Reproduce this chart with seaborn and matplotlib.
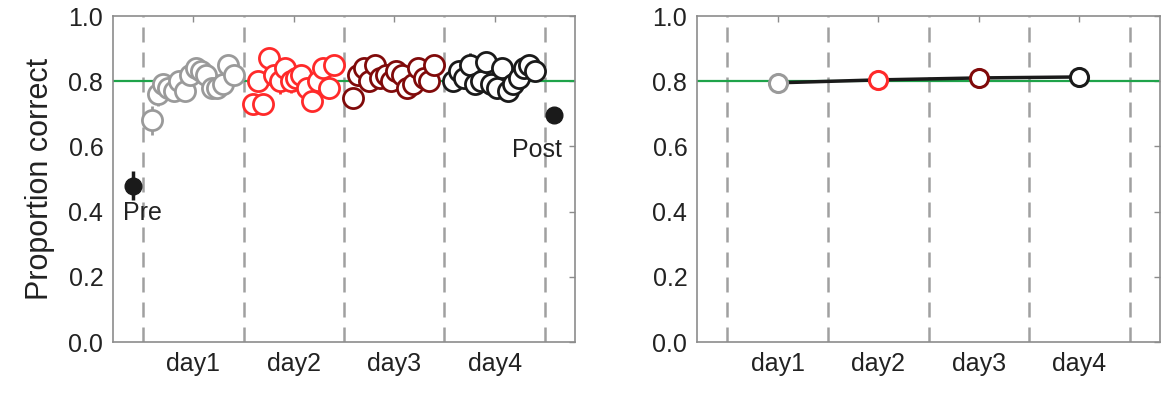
import numpy as np
import pandas as pd
import matplotlib
matplotlib.use("Agg")
import matplotlib.pyplot as plt
import seaborn as sns

sns.set_theme(style="white")
plt.rcParams['font.family'] = ['Liberation Sans', 'DejaVu Sans']

# ---------------- data ----------------
days = ["day1", "day2", "day3", "day4"]
day_colors = ["#9a9a9a", "#ff2a2a", "#800a0a", "#1a1a1a"]

day1_vals = [0.68, 0.76, 0.79, 0.78, 0.77, 0.80, 0.77, 0.82, 0.84, 0.83, 0.82, 0.78, 0.78, 0.79, 0.85, 0.82]
day2_vals = [0.73, 0.80, 0.73, 0.87, 0.82, 0.80, 0.84, 0.80, 0.81, 0.82, 0.78, 0.74, 0.80, 0.84, 0.78, 0.85]
day3_vals = [0.75, 0.82, 0.84, 0.80, 0.85, 0.81, 0.82, 0.80, 0.83, 0.82, 0.78, 0.79, 0.84, 0.81, 0.80, 0.85]
day4_vals = [0.80, 0.83, 0.81, 0.85, 0.79, 0.80, 0.86, 0.79, 0.78, 0.84, 0.77, 0.79, 0.81, 0.84, 0.85, 0.83]

day1_err = [0.045, 0.035, 0.03, 0.03, 0.03, 0.025, 0.03, 0.025, 0.02, 0.02, 0.02, 0.02, 0.02, 0.02, 0.02, 0.02]
day2_err = [0.02, 0.02, 0.02, 0.02, 0.035, 0.04, 0.02, 0.035, 0.02, 0.02, 0.02, 0.02, 0.035, 0.02, 0.035, 0.02]
day3_err = [0.02, 0.035, 0.02, 0.02, 0.02, 0.02, 0.02, 0.02, 0.02, 0.02, 0.02, 0.02, 0.02, 0.02, 0.02, 0.02]
day4_err = [0.02, 0.02, 0.02, 0.035, 0.02, 0.02, 0.02, 0.02, 0.02, 0.02, 0.02, 0.02, 0.02, 0.02, 0.02, 0.02]

pre_val, pre_err = 0.48, 0.045
post_val, post_err = 0.695, 0.015

day_means = [0.795, 0.804, 0.810, 0.813]

criterion = 0.8
yticks = [0.0, 0.2, 0.4, 0.6, 0.8, 1.0]
ytick_labels = ["0.0", "0.2", "0.4", "0.6", "0.8", "1.0"]

# ---------------- figure ----------------
W, H = 1163, 395
fig = plt.figure(figsize=(W / 100, H / 100), dpi=100)
ax1 = fig.add_axes([113 / W, (H - 342) / H, 462 / W, 326 / H])
ax2 = fig.add_axes([697 / W, (H - 342) / H, 463 / W, 326 / H])

spine_col = "#8c8c8c"
green = "#1fa34a"
dash_col = "#a0a0a0"
fs_tick = 18

for ax in (ax1, ax2):
    ax.set_xlim(0.2, 4.8)
    ax.set_ylim(0, 1)
    for b in np.arange(0.5, 5.0, 1.0):
        ax.axvline(b, color=dash_col, lw=1.8, ls=(0, (6, 4)), zorder=1)
    ax.axhline(criterion, color=green, lw=1.6, zorder=1.5)
    ax.set_yticks(yticks)
    ax.set_yticklabels(ytick_labels)
    ax.set_xticks([1, 2, 3, 4])
    ax.set_xticklabels(days)
    ax.tick_params(direction="in", length=4, width=1, color=spine_col,
                   labelsize=fs_tick, top=True, right=True, pad=7,
                   labelcolor="#222222")
    for s in ax.spines.values():
        s.set_color(spine_col)
        s.set_linewidth(1.2)
    ax.grid(False)

# ---------------- left panel ----------------
all_vals = [day1_vals, day2_vals, day3_vals, day4_vals]
all_errs = [day1_err, day2_err, day3_err, day4_err]
rows = []
for d, (vals, errs) in enumerate(zip(all_vals, all_errs), start=1):
    n = len(vals)
    xs = np.linspace(d - 0.41, d + 0.40, n)
    for x, v, e in zip(xs, vals, errs):
        rows.append({"x": x, "y": v, "err": e, "day": days[d - 1]})
df = pd.DataFrame(rows)

for dname, c in zip(days, day_colors):
    sub = df[df["day"] == dname]
    ax1.errorbar(sub["x"], sub["y"], yerr=sub["err"], fmt="none",
                 ecolor=c, elinewidth=2, capsize=0, zorder=2)
    sns.scatterplot(data=sub, x="x", y="y", ax=ax1, color=c, s=210,
                    linewidth=2.0, zorder=3, legend=False)
    coll = ax1.collections[-1]
    coll.set_facecolor("white")
    coll.set_edgecolor(c)

ax1.errorbar([0.40], [pre_val], yerr=[pre_err], fmt="o", color="#1a1a1a",
             ms=12, elinewidth=2.5, capsize=0, zorder=4)
ax1.errorbar([4.59], [post_val], yerr=[post_err], fmt="o", color="#1a1a1a",
             ms=12, elinewidth=2.5, capsize=0, zorder=4)
ax1.text(0.49, 0.395, "Pre", ha="center", va="center", fontsize=fs_tick, color="#222222")
ax1.text(4.42, 0.59, "Post", ha="center", va="center", fontsize=fs_tick, color="#222222")
ax1.set_xlabel("")
ax1.set_ylabel("Proportion correct", fontsize=22, labelpad=10, color="#222222")

# ---------------- right panel ----------------
dm = pd.DataFrame({"x": [1, 2, 3, 4], "y": day_means, "day": days})
sns.lineplot(data=dm, x="x", y="y", ax=ax2, color="#1a1a1a", lw=2.5, zorder=3)
for i, c in enumerate(day_colors):
    ax2.plot(dm["x"].iloc[i], dm["y"].iloc[i], "o", ms=13, mfc="white",
             mec=c, mew=2.2, zorder=4)
ax2.set_xlabel("")
ax2.set_ylabel("")

fig.savefig("out.png", dpi=100)
